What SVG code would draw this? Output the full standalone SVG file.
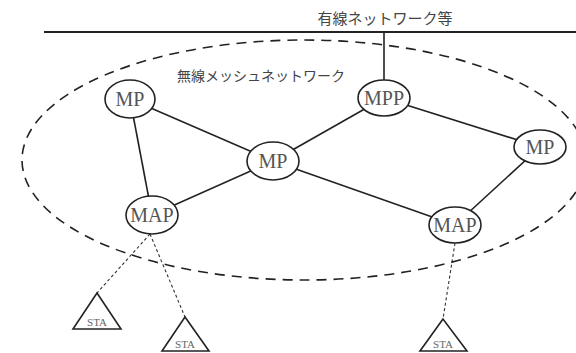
<svg xmlns="http://www.w3.org/2000/svg" width="576" height="353" viewBox="0 0 576 353">
<style>
.bg{fill:#fff}
.edge{stroke:#222;stroke-width:1.6;fill:none}
.dot{stroke:#333;stroke-width:1.1;stroke-dasharray:3 2.5;fill:none}
.node{fill:#fff;stroke:#222;stroke-width:1.6}
.lbl{font-family:"Liberation Serif","Times New Roman",serif;font-size:20px;fill:#555;text-anchor:middle}
.sta{font-family:"Liberation Serif","Times New Roman",serif;font-size:11px;fill:#666;text-anchor:middle}
.jp{font-family:"Noto Sans CJK JP","Noto Sans",sans-serif;fill:#444}
</style>
<rect class="bg" x="0" y="0" width="576" height="353"/>
<g id="wired-network">
<line x1="44" y1="32" x2="576" y2="32" stroke="#222" stroke-width="1.8"/>
<text class="jp" x="385" y="24" font-size="15" text-anchor="middle">有線ネットワーク等</text>
</g>
<g id="mesh-area">
<ellipse cx="304" cy="160" rx="282" ry="120" fill="none" stroke="#222" stroke-width="1.6" stroke-dasharray="10 7"/>
<text class="jp" x="177" y="81" font-size="14">無線メッシュネットワーク</text>
</g>
<g id="connectors">
<line class="edge" x1="384" y1="32" x2="384" y2="80"/>
<line class="edge" x1="130" y1="99" x2="273" y2="161"/>
<line class="edge" x1="130" y1="99" x2="152" y2="215"/>
<line class="edge" x1="384" y1="98" x2="273" y2="161"/>
<line class="edge" x1="384" y1="98" x2="540" y2="147"/>
<line class="edge" x1="273" y1="161" x2="152" y2="215"/>
<line class="edge" x1="273" y1="161" x2="455" y2="225"/>
<line class="edge" x1="540" y1="147" x2="455" y2="225"/>
<line class="dot" x1="150" y1="234" x2="97" y2="293"/>
<line class="dot" x1="150" y1="234" x2="185" y2="317"/>
<line class="dot" x1="455" y1="243" x2="443" y2="319"/>
</g>
<g id="mp1"><ellipse class="node" cx="130" cy="99" rx="25" ry="19"/><text class="lbl" x="130" y="106">MP</text></g>
<g id="mpp"><ellipse class="node" cx="384" cy="98" rx="26" ry="18"/><text class="lbl" x="384" y="105">MPP</text></g>
<g id="mp2"><ellipse class="node" cx="273" cy="161" rx="26" ry="19"/><text class="lbl" x="273" y="168">MP</text></g>
<g id="mp3"><ellipse class="node" cx="540" cy="147" rx="26" ry="17"/><text class="lbl" x="540" y="154">MP</text></g>
<g id="map1"><ellipse class="node" cx="152" cy="215" rx="26" ry="19"/><text class="lbl" x="152" y="222">MAP</text></g>
<g id="map2"><ellipse class="node" cx="455" cy="225" rx="26" ry="18"/><text class="lbl" x="455" y="232">MAP</text></g>
<g id="sta1"><polygon class="node" points="97,293 73,329 121,329"/><text class="sta" x="97" y="326">STA</text></g>
<g id="sta2"><polygon class="node" points="185,317 162,351 209,351"/><text class="sta" x="185" y="348">STA</text></g>
<g id="sta3"><polygon class="node" points="443,319 420,351 467,351"/><text class="sta" x="443" y="348">STA</text></g>
</svg>
